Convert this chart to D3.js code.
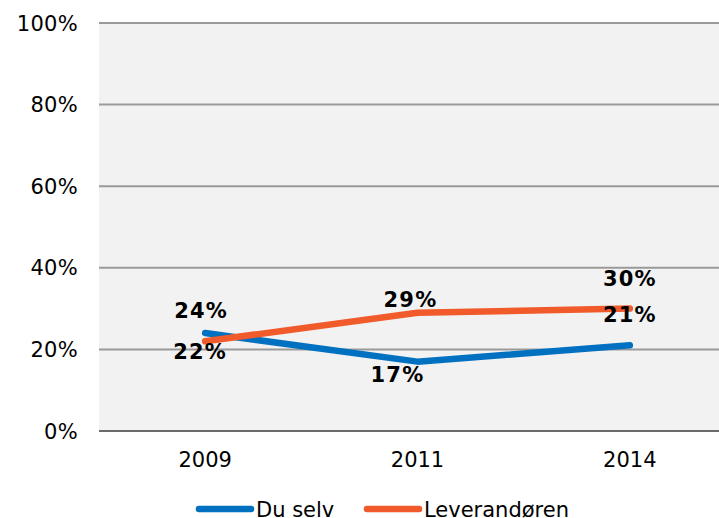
<!DOCTYPE html>
<html>
<head>
<meta charset="utf-8">
<script src="https://cdn.jsdelivr.net/npm/d3@7"></script>
<style>
  body { margin: 0; background: #fff; }
  svg { display: block; font-family: "DejaVu Sans", Verdana, sans-serif; }
</style>
</head>
<body>
<div id="chart"></div>
<script>
// chart data
var years = ["2009", "2011", "2014"];
var duSelv = [24, 17, 21];
var leverandoren = [22, 29, 30];
var seriesNames = ["Du selv", "Leverandøren"];
var yTicks = [0, 20, 40, 60, 80, 100];

// label nudges (dx, dy from the point), per series
var labelNudge = [
  [[-4, -15], [-20, 20], [0, -23]],
  [[-5, 18], [-7, -6], [0, -23]]
];

var W = 719, H = 518;
var plotLeft = 99, plotTop = 23, plotBottom = 431, plotRight = 736;
var colors = ["#0070c0", "#f15a2b"];

var svg = d3.select("#chart").append("svg")
  .attr("width", W)
  .attr("height", H);

var x = d3.scaleBand().domain(years).range([plotLeft, plotRight]);
var y = d3.scaleLinear().domain([0, 100]).range([plotBottom, plotTop]);

// plot background
svg.append("rect")
  .attr("x", plotLeft).attr("y", plotTop)
  .attr("width", W - plotLeft).attr("height", plotBottom - plotTop)
  .attr("fill", "#f2f2f2");

// gridlines
svg.selectAll("line.grid")
  .data(yTicks.filter(function(d) { return d > 0; }))
  .enter().append("line")
  .attr("class", "grid")
  .attr("x1", plotLeft).attr("x2", W)
  .attr("y1", function(d) { return y(d); })
  .attr("y2", function(d) { return y(d); })
  .attr("stroke", "#9a9a9a")
  .attr("stroke-width", 2);

// base axis
svg.append("line")
  .attr("x1", plotLeft).attr("x2", W)
  .attr("y1", y(0)).attr("y2", y(0))
  .attr("stroke", "#6b6b6b")
  .attr("stroke-width", 2);

// y labels
svg.selectAll("text.ytick")
  .data(yTicks)
  .enter().append("text")
  .attr("class", "ytick")
  .attr("x", 78)
  .attr("y", function(d) { return y(d); })
  .attr("dy", "0.36em")
  .attr("text-anchor", "end")
  .attr("font-size", "21px")
  .attr("letter-spacing", "0.3px")
  .attr("fill", "#000")
  .text(function(d) { return d + "%"; });

// x labels
svg.selectAll("text.xtick")
  .data(years)
  .enter().append("text")
  .attr("class", "xtick")
  .attr("x", function(d) { return x(d) + x.bandwidth() / 2; })
  .attr("y", 467)
  .attr("text-anchor", "middle")
  .attr("font-size", "21px")
  .attr("fill", "#000")
  .text(function(d) { return d; });

var allSeries = [duSelv, leverandoren];

var line = d3.line()
  .x(function(d, i) { return x(years[i]) + x.bandwidth() / 2; })
  .y(function(d) { return y(d); });

var plot = svg.append("g");
allSeries.forEach(function(vals, s) {
  plot.append("path")
    .datum(vals)
    .attr("d", line)
    .attr("fill", "none")
    .attr("stroke", colors[s])
    .attr("stroke-width", 6.5)
    .attr("stroke-linecap", "round")
    .attr("stroke-linejoin", "round");
});

// data labels
allSeries.forEach(function(vals, s) {
  svg.selectAll("text.lab" + s)
    .data(vals)
    .enter().append("text")
    .attr("class", "lab" + s)
    .attr("x", function(d, i) { return x(years[i]) + x.bandwidth() / 2 + labelNudge[s][i][0]; })
    .attr("y", function(d, i) { return y(d) + labelNudge[s][i][1]; })
    .attr("text-anchor", "middle")
    .attr("font-size", "21px")
    .attr("font-weight", "bold")
    .attr("letter-spacing", "1.2px")
    .attr("fill", "#000")
    .text(function(d) { return d + "%"; });
});

// legend
var legendX = [197, 365];
var legend = svg.selectAll("g.legend")
  .data(seriesNames)
  .enter().append("g")
  .attr("class", "legend")
  .attr("transform", function(d, i) { return "translate(" + legendX[i] + ",509)"; });

legend.append("line")
  .attr("x1", 2).attr("x2", 54)
  .attr("y1", 0).attr("y2", 0)
  .attr("stroke", function(d, i) { return colors[i]; })
  .attr("stroke-width", 6.5)
  .attr("stroke-linecap", "round");

legend.append("text")
  .attr("x", 59)
  .attr("y", 0)
  .attr("dy", "0.36em")
  .attr("font-size", "21px")
  .attr("fill", "#000")
  .text(function(d) { return d; });
</script>
</body>
</html>
